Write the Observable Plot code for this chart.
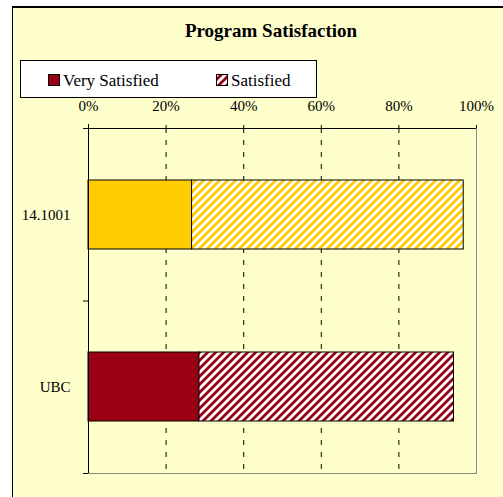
<!DOCTYPE html>
<html>
<head>
<meta charset="utf-8">
<script src="https://cdn.jsdelivr.net/npm/d3@7"></script>
<script src="https://cdn.jsdelivr.net/npm/@observablehq/plot@0.6"></script>
<style>
  html, body { margin: 0; padding: 0; background: #ffffff; overflow: hidden; width: 503px; height: 497px; }
  #wrap { width: 503px; height: 497px; overflow: hidden; position: relative; }
  #wrap svg { display: block; max-width: none; }
</style>
</head>
<body>
<div id="wrap"></div>
<script>
// ---- data ----
const title = "Program Satisfaction";
const categories = ["14.1001", "UBC"];
const series = ["Very Satisfied", "Satisfied"];
const verySatisfied = [0.267, 0.286];
const satisfied = [0.700, 0.656];
const xTicks = [0, 0.2, 0.4, 0.6, 0.8, 1];
const categoryColors = ["#FFCC00", "#990014"];

const serif = "Liberation Serif";
const wrap = document.getElementById("wrap");

// ---- rows ----
const rows = [];
categories.forEach((cat, i) => {
  rows.push({category: cat, series: series[0], value: verySatisfied[i], fill: categoryColors[i]});
  rows.push({category: cat, series: series[1], value: satisfied[i], fill: `url(#hatch-${i})`});
});

const plot = Plot.plot({
  width: 503,
  height: 497,
  marginLeft: 88,
  marginRight: 27,
  marginTop: 128,
  marginBottom: 24,
  style: {background: "#ffffff", fontFamily: serif, fontSize: "15px", color: "#000"},
  x: {domain: [0, 1], axis: "top", ticks: xTicks, tickFormat: d => Math.round(d * 100) + "%", tickSize: 4, tickPadding: 14, label: null},
  y: {domain: categories, paddingInner: 0.6, paddingOuter: 0.3, axis: "left", tickSize: 0, tickPadding: 18, label: null},
  color: {type: "identity"},
  marks: [
    Plot.frame({stroke: "#888888"}),
    Plot.ruleX(xTicks.slice(1, -1), {stroke: "#000", strokeDasharray: "5,7"}),
    Plot.barX(rows, {x: "value", y: "category", fill: "fill", stroke: "#000", strokeWidth: 1, inset: 0})
  ]
});
wrap.appendChild(plot);

const svg = d3.select(plot);

// ---- hatch patterns (inside the plot svg) ----
const defs = svg.insert("defs", ":first-child");
categoryColors.forEach((c, i) => {
  const p = defs.append("pattern").attr("id", "hatch-" + i)
    .attr("patternUnits", "userSpaceOnUse").attr("width", 8).attr("height", 8);
  p.append("rect").attr("width", 8).attr("height", 8).attr("fill", "#ffffff");
  p.append("path").attr("d", "M-2,2L2,-2M0,8L8,0M6,10L10,6")
    .attr("stroke", c).attr("stroke-width", 2.8);
});

// ---- chart-area background and border (behind everything) ----
const bg = svg.insert("g", "defs + *");
bg.append("rect").attr("x", 12).attr("y", 6).attr("width", 491).attr("height", 491).attr("fill", "#FFFFCC");
bg.append("line").attr("x1", 12).attr("x2", 503).attr("y1", 7).attr("y2", 7).attr("stroke", "#000").attr("stroke-width", 2);
bg.append("line").attr("x1", 12.5).attr("x2", 12.5).attr("y1", 6).attr("y2", 497).attr("stroke", "#000");

// ---- axis lines drawn from scales ----
const xs = plot.scale("x"), ys = plot.scale("y");
const [x0, x1] = xs.range;
const [y0, y1] = ys.range;
const g = svg.append("g").attr("stroke", "#000").attr("fill", "none");
g.append("line").attr("x1", x0 - 5).attr("x2", x1).attr("y1", y0 + 0.5).attr("y2", y0 + 0.5);
g.append("line").attr("x1", x0 + 0.5).attr("x2", x0 + 0.5).attr("y1", y0 - 4).attr("y2", y1);
const boundaries = [y0];
categories.slice(0, -1).forEach(c => boundaries.push(ys.apply(c) + ys.bandwidth + (ys.step - ys.bandwidth) / 2));
boundaries.push(y1);
boundaries.forEach(b => g.append("line").attr("x1", x0 - 5).attr("x2", x0).attr("y1", b + 0.5).attr("y2", b + 0.5));

// ---- title and legend ----
const ov = svg.append("g").attr("font-family", serif).attr("text-anchor", "start").attr("fill", "#000");
ov.append("text").attr("x", 271).attr("y", 37).attr("text-anchor", "middle")
  .attr("font-weight", "bold").attr("font-size", 19).text(title);
ov.append("rect").attr("x", 20.5).attr("y", 60.5).attr("width", 296).attr("height", 37)
  .attr("fill", "#fff").attr("stroke", "#000");
const legX = [48.5, 216.5];
const legFill = [categoryColors[1], "url(#hatch-1)"];
series.forEach((s, i) => {
  ov.append("rect").attr("x", legX[i]).attr("y", 74.5).attr("width", 11).attr("height", 11)
    .attr("fill", legFill[i]).attr("stroke", "#000");
  ov.append("text").attr("x", legX[i] + 14.5).attr("y", 85.5).attr("text-anchor", "start")
    .attr("font-size", 17).text(s);
});
</script>
</body>
</html>
